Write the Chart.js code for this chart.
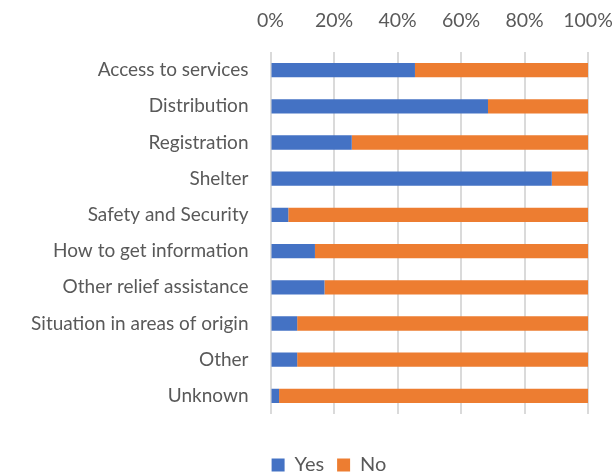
<!DOCTYPE html>
<html>
<head>
<meta charset="utf-8">
<script src="https://cdn.jsdelivr.net/npm/chart.js@4.4.0/dist/chart.umd.min.js"></script>
<style>
  body { margin: 0; background: #fff; }
  #chart { display: block; }
</style>
</head>
<body>
<canvas id="chart" width="616" height="475"></canvas>
<script>
    // categories, top to bottom
    var categories = [
        "Access to services",
        "Distribution",
        "Registration",
        "Shelter",
        "Safety and Security",
        "How to get information",
        "Other relief assistance",
        "Situation in areas of origin",
        "Other",
        "Unknown"
    ];

    // share of answers, percent
    var yesValues = [45.5, 68.5, 25.6, 88.6, 5.6, 14.0, 17.0, 8.4, 8.4, 2.7];
    var noValues = [54.5, 31.5, 74.4, 11.4, 94.4, 86.0, 83.0, 91.6, 91.6, 97.3];

    var xTicks = [0, 20, 40, 60, 80, 100];

    var textColor = "#595959";
    var fontFamily = "Lato, 'Open Sans', sans-serif";

    // legend sits centred under the plot, not the whole canvas
    var legendShift = {
        id: "legendShift",
        afterLayout: function (chart) {
            chart.legend.left += 35;
            chart.legend.right += 35;
        }
    };

    new Chart("chart", {
        type: "bar",
        data: {
            labels: categories,
            datasets: [{
                label: "Yes",
                data: yesValues,
                backgroundColor: "#4472C4",
                barPercentage: 0.395,
                categoryPercentage: 1
            }, {
                label: "No",
                data: noValues,
                backgroundColor: "#ED7D31",
                barPercentage: 0.395,
                categoryPercentage: 1
            }]
        },
        options: {
            indexAxis: "y",
            responsive: false,
            animation: false,
            layout: {
                padding: { top: 0, right: 28, bottom: -10, left: 0 }
            },
            scales: {
                x: {
                    position: "top",
                    stacked: true,
                    min: 0,
                    max: 100,
                    afterBuildTicks: function (scale) {
                        scale.ticks = xTicks.map(function (v) { return { value: v }; });
                    },
                    afterFit: function (scale) {
                        scale.height = 52;
                        scale.paddingLeft = 0;
                        scale.paddingRight = 0;
                    },
                    border: { display: false },
                    grid: {
                        color: "#dadada",
                        lineWidth: 2,
                        drawTicks: false
                    },
                    ticks: {
                        padding: 20,
                        color: textColor,
                        font: { family: fontFamily, size: 19.5 },
                        callback: function (v) { return v + "%"; }
                    }
                },
                y: {
                    stacked: true,
                    afterFit: function (scale) {
                        scale.width = 270.5;
                    },
                    border: { display: false },
                    grid: { display: false, drawTicks: false },
                    ticks: {
                        padding: 22,
                        color: textColor,
                        font: { family: fontFamily, size: 19 }
                    }
                }
            },
            plugins: {
                tooltip: { enabled: false },
                legend: {
                    position: "bottom",
                    title: {
                        display: true,
                        text: "",
                        font: { size: 1 },
                        padding: { top: 26.8, bottom: 0 }
                    },
                    labels: {
                        boxWidth: 13,
                        boxHeight: 13,
                        padding: 13,
                        color: textColor,
                        font: { family: fontFamily, size: 20 }
                    }
                }
            }
        },
        plugins: [legendShift]
    });
</script>
</body>
</html>
